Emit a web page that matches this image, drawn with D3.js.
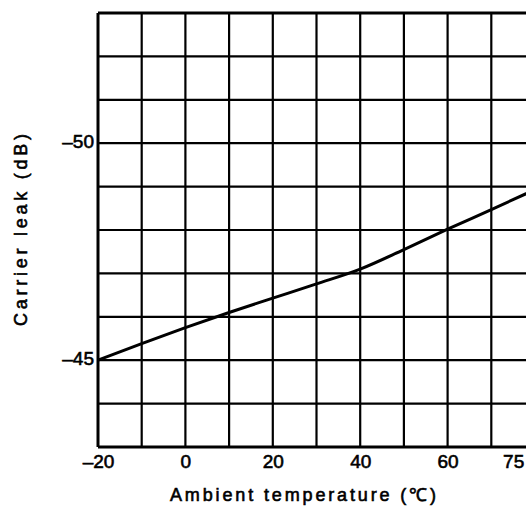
<!DOCTYPE html>
<html>
<head>
<meta charset="utf-8">
<script src="https://cdn.jsdelivr.net/npm/d3@7"></script>
<style>
    body{margin:0;background:#fff;}
    text{font-family:'Liberation Sans',Arial,sans-serif;fill:#000;stroke:#000;stroke-width:0.6px;}
</style>
</head>
<body>
<div id="graphWrapper"></div>
<script>
//data
const TEMPS = [-20, -10, 0, 10, 20, 30, 40, 50, 60, 70, 80];
const LEAK = [-45.0, -45.38, -45.75, -46.1, -46.43, -46.76, -47.1, -47.55, -48.02, -48.47, -48.93];
const X_TICKS = [-20, 0, 20, 40, 60, 75];
const Y_TICKS = [-50, -45];
const X_GRID = [-20, -10, 0, 10, 20, 30, 40, 50, 60, 70, 80];
const Y_GRID = [-53, -52, -51, -50, -49, -48, -47, -46, -45, -44, -43];

const CONSTANTS = {
    WIDTH:526,
    HEIGHT:506,
    LEFT:98,     //x pixel of -20 C
    RIGHT:535,   //x pixel of 80 C (past the edge of the picture)
    TOP:13,      //y pixel of -53 dB
    BOTTOM:447   //y pixel of -43 dB
};

let svg = d3.select('#graphWrapper')
    .append('svg')
    .attr('width',CONSTANTS.WIDTH)
    .attr('height',CONSTANTS.HEIGHT);

//scales
let x = d3.scaleLinear().domain([-20,80]).range([CONSTANTS.LEFT,CONSTANTS.RIGHT]);
let y = d3.scaleLinear().domain([-53,-43]).range([CONSTANTS.TOP,CONSTANTS.BOTTOM]);

//wide dash like the printed one
let fmt = d=> d < 0 ? '\u2013' + Math.abs(d) : String(d);

//grid lines
svg.append('g')
    .attr('class','grid')
    .selectAll('line.v')
    .data(X_GRID)
    .enter()
    .append('line')
    .attr('x1',d=>x(d)).attr('x2',d=>x(d))
    .attr('y1',y(-53)).attr('y2',y(-43))
    .attr('stroke','#000')
    .attr('stroke-width',(d,i)=> i==0 ? 3 : 2.2);

svg.append('g')
    .attr('class','grid')
    .selectAll('line.h')
    .data(Y_GRID)
    .enter()
    .append('line')
    .attr('x1',x(-20)).attr('x2',x(80))
    .attr('y1',d=>y(d)).attr('y2',d=>y(d))
    .attr('stroke','#000')
    .attr('stroke-width',(d,i)=> (i==0 || i==Y_GRID.length-1) ? 3 : 2.2);

//x tick labels
let xAxis = d3.axisBottom(x).tickValues(X_TICKS).tickSize(0).tickPadding(8).tickFormat(fmt);
let gx = svg.append('g')
    .attr('id','x-axis')
    .attr('transform','translate(0,'+ y(-43) + ')')
    .call(xAxis);
gx.select('.domain').remove();
gx.selectAll('text').style('font-size','19px').attr('fill','#000');

//y tick labels
let yAxis = d3.axisLeft(y).tickValues(Y_TICKS).tickSize(0).tickPadding(3).tickFormat(fmt);
let gy = svg.append('g')
    .attr('id','y-axis')
    .attr('transform','translate('+ (x(-20)-1) +',-2)')
    .call(yAxis);
gy.select('.domain').remove();
gy.selectAll('text').style('font-size','19px').attr('fill','#000');

//the curve
let line = d3.line()
    .x((d,i)=>x(TEMPS[i]))
    .y(d=>y(d))
    .curve(d3.curveMonotoneX);

svg.append('path')
    .datum(LEAK)
    .attr('d',line)
    .attr('fill','none')
    .attr('stroke','#000')
    .attr('stroke-width',3);

//axis titles
svg.append('text')
    .attr('x',303)
    .attr('y',501)
    .attr('text-anchor','middle')
    .attr('textLength',266)
    .style('font-size','18px')
    .text('Ambient temperature (℃)');

svg.append('text')
    .attr('transform','translate(27,230) rotate(-90)')
    .attr('text-anchor','middle')
    .attr('textLength',192)
    .style('font-size','18px')
    .text('Carrier leak (dB)');
</script>
</body>
</html>
